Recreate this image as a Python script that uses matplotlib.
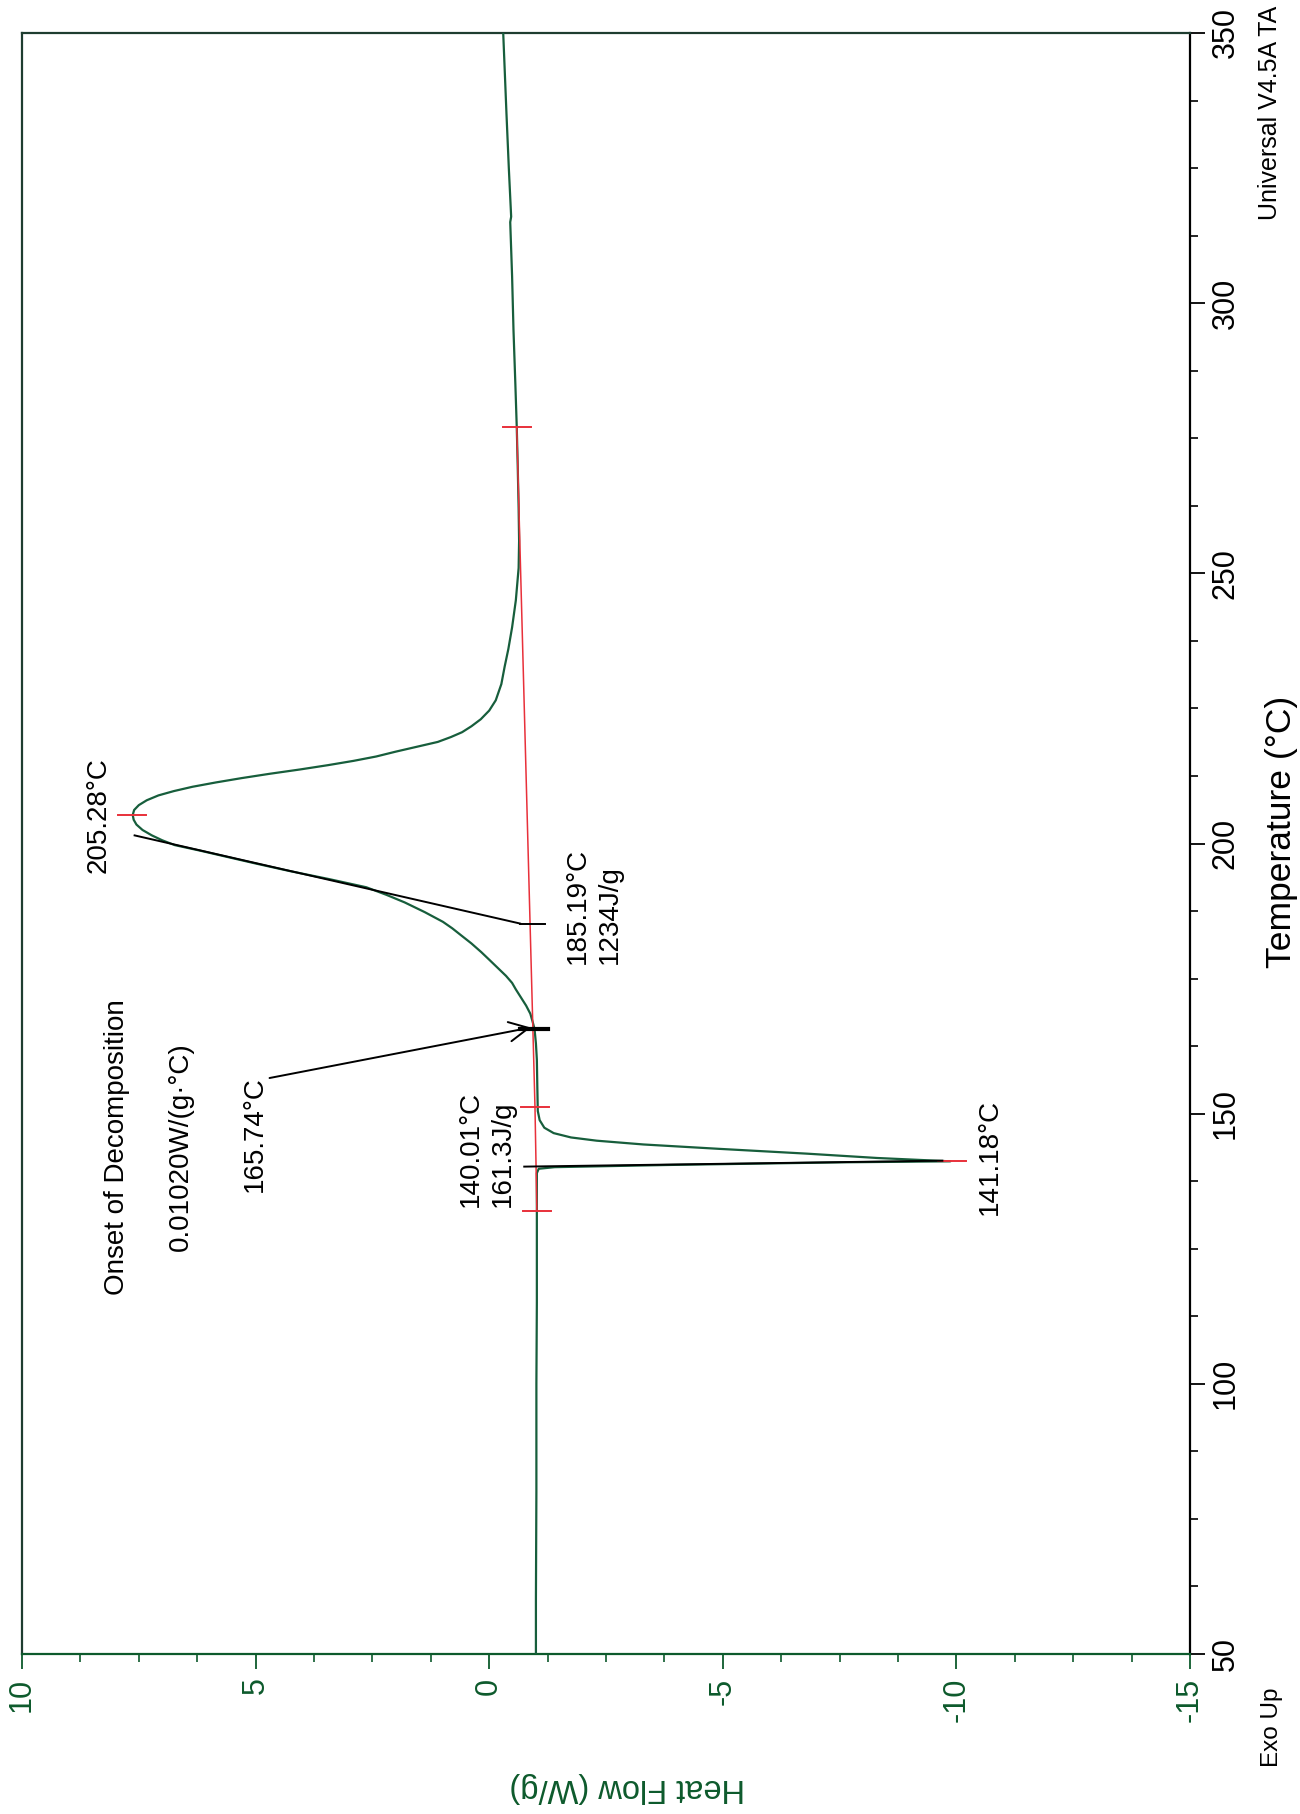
import matplotlib
matplotlib.use('Agg')
import matplotlib.pyplot as plt
from matplotlib.ticker import MultipleLocator

# DSC trace, drawn turned on its side: heat flow runs along the bottom, temperature up the right
temperature = [50, 60, 80, 100, 115, 125, 132, 136, 139.0, 139.8, 140.1, 140.5, 141.0, 141.18,
               141.8, 142.6, 143.5, 144.3, 145.0, 145.6, 146.4, 147.4, 148.8, 150.5, 155, 160, 163,
               165.7, 167, 168.5, 170, 171.5, 173, 174.2, 175.5, 177, 178.5, 179.9, 181.5, 183, 184.3,
               185.5, 187.3, 189.1, 190.5, 191.9, 193.4, 194.9, 196.3, 197.5, 198.7, 199.7, 200.6,
               201.5, 202.5, 203.5, 204.4, 205.28, 206.2, 207.1, 208.0, 208.9, 209.7, 210.5, 211.3,
               212.1, 212.9, 213.7, 214.5, 215.3, 216.1, 217.0, 217.9, 218.8, 219.7, 220.6, 221.7,
               223.0, 224.6, 226.5, 229.5, 232.7, 236, 240, 245, 251, 256, 262, 270, 277, 285,
               295, 305, 315, 316, 325, 335, 350]
heat_flow = [-1.00, -1.00, -1.01, -1.01, -1.02, -1.02, -1.02, -1.02, -1.02, -1.06, -1.4, -3.8, -7.6, -9.87,
             -8.3, -6.8, -4.9, -3.3, -2.3, -1.75, -1.38, -1.18, -1.08, -1.04, -1.03, -1.02, -1.0,
             -0.97, -0.93, -0.88, -0.79, -0.68, -0.57, -0.49, -0.36, -0.18, 0.0, 0.17, 0.38, 0.6, 0.79,
             0.99, 1.38, 1.81, 2.2, 2.63, 3.42, 4.27, 5.0, 5.6, 6.2, 6.73, 7.0,
             7.22, 7.42, 7.55, 7.61, 7.63, 7.6, 7.5, 7.33, 7.08, 6.75, 6.35, 5.85,
             5.3, 4.7, 4.05, 3.45, 2.9, 2.42, 2.0, 1.55, 1.1, 0.82, 0.58, 0.38,
             0.18, 0.0, -0.14, -0.26, -0.33, -0.41, -0.49, -0.57, -0.63, -0.64, -0.63, -0.61, -0.59, -0.56,
             -0.52, -0.49, -0.45, -0.47, -0.42, -0.37, -0.30]

# integration baselines (red)
base_temp = [132, 151.2, 277]
base_hf = [-1.02, -0.98, -0.59]
peak_temp = [141.18, 205.28]
peak_hf = [-9.9, 7.65]

# onset tangents (black)
tan_big_temp = [201.5, 185.19]
tan_big_hf = [7.59, -0.66]
tan_small_temp = [140.2, 141.3]
tan_small_hf = [-0.75, -9.7]
decomp_temp = 165.74
decomp_hf = -0.95

hf_ticks = [10, 5, 0, -5, -10, -15]
t_ticks = [50, 100, 150, 200, 250, 300, 350]

GREEN = '#175e3c'
AXGREEN = '#0d5a2c'
RED = '#e8303a'

plt.rcParams['font.family'] = ['Liberation Sans', 'DejaVu Sans']
plt.rcParams['axes.unicode_minus'] = False

fig = plt.figure(figsize=(13, 18.14), dpi=100)
ax = fig.add_axes([22/1300, 1-1654/1814, 1168/1300, 1621/1814])

ax.plot(heat_flow, temperature, color=GREEN, lw=1.6, zorder=3)

# baselines + limit ticks
ax.plot(base_hf, base_temp, color=RED, lw=1.1, zorder=4)
for t, h in zip(base_temp, base_hf):
    ax.plot([h + 0.3, h - 0.3], [t, t], color=RED, lw=1.4, zorder=4)
for t, h in zip(peak_temp, peak_hf):
    ax.plot([h + 0.3, h - 0.3], [t, t], color=RED, lw=1.4, zorder=4)

# tangents
ax.plot(tan_big_hf, tan_big_temp, color='black', lw=1.4, zorder=5)
ax.plot([-0.66, -1.19], [185.19, 185.19], color='black', lw=1.4, zorder=5)
ax.plot(tan_small_hf, tan_small_temp, color='black', lw=1.4, zorder=5)
ax.plot([-0.66, -1.25], [decomp_temp, decomp_temp], color='black', lw=3, zorder=5)
ax.annotate('', xy=(decomp_hf, decomp_temp + 0.3), xytext=(4.76, 156.5),
            arrowprops=dict(arrowstyle='->', color='black', lw=1.4, mutation_scale=35))

ax.set_xlim(10, -15)
ax.set_ylim(50, 350)
ax.set_xticks(hf_ticks)
ax.set_yticks(t_ticks)
ax.xaxis.set_minor_locator(MultipleLocator(1.25))
ax.yaxis.set_minor_locator(MultipleLocator(12.5))
ax.yaxis.tick_right()

ax.tick_params(axis='x', which='major', length=11, width=1.3, color=AXGREEN, labelcolor=AXGREEN,
               labelsize=22, labelrotation=90, pad=6)
ax.tick_params(axis='x', which='minor', length=6, width=1.2, color=AXGREEN)
ax.tick_params(axis='y', which='major', length=11, width=1.3, color='black', labelsize=22,
               labelrotation=90, pad=4)
ax.tick_params(axis='y', which='minor', length=6, width=1.2, color='black')
for lab in ax.get_yticklabels():
    lab.set_va('center')

ax.spines['bottom'].set_color(AXGREEN)
ax.spines['left'].set_color('#1e3d30')
ax.spines['top'].set_color('#1e3d30')
ax.spines['right'].set_color('black')
for s in ax.spines.values():
    s.set_linewidth(1.6)

# annotations
ax.text(8.37, 205.3, '205.28°C', rotation=90, ha='center', va='center', fontsize=20)
ax.text(-2.25, 177.75, '185.19°C\n1234J/g', rotation=90, ha='center', va='bottom',
        multialignment='left', fontsize=20, linespacing=1.3)
ax.text(7.96, 143.8, 'Onset of Decomposition', rotation=90, ha='center', va='center', fontsize=20)
ax.text(6.61, 143.9, '0.01020W/(g·°C)', rotation=90, ha='center', va='center', fontsize=20)
ax.text(5.02, 146.2, '165.74°C', rotation=90, ha='center', va='center', fontsize=20)
ax.text(0.05, 132.7, '140.01°C\n161.3J/g', rotation=90, ha='center', va='bottom',
        multialignment='left', fontsize=20, linespacing=1.3)
ax.text(-10.72, 142.0, '141.18°C', rotation=90, ha='center', va='center', fontsize=20)

# outside labels
fig.text(1282/1300, 1-832/1814, 'Temperature (°C)', rotation=90, ha='center', va='center', fontsize=25.5)
fig.text(627/1300, 1-1787/1814, 'Heat Flow (W/g)', rotation=180, ha='center', va='center',
         fontsize=23.5, color=AXGREEN)
fig.text(1270/1300, 1-220/1814, 'Universal V4.5A TA', rotation=90, ha='center',
         va='bottom', fontsize=18)
fig.text(1272/1300, 1-1727/1814, 'Exo Up', rotation=90, ha='center', va='center', fontsize=17.5)

fig.savefig('out.png', dpi=100)
